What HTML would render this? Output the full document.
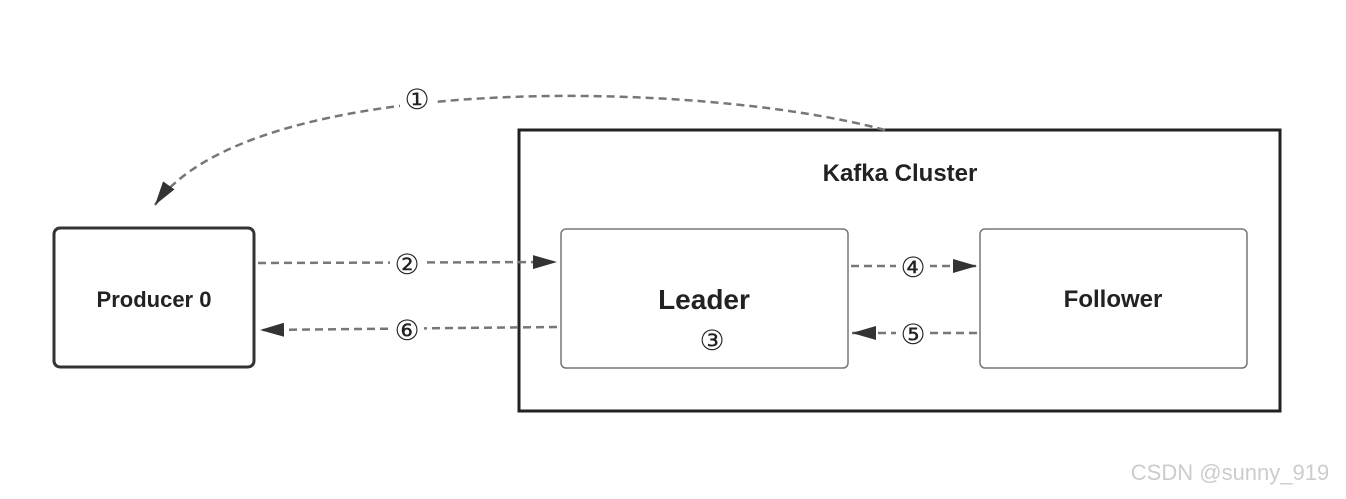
<!DOCTYPE html>
<html><head><style>
body{margin:0;background:#fff;}
svg text{font-family:"Liberation Sans",sans-serif;}
</style></head><body>
<svg width="1346" height="494" viewBox="0 0 1346 494" xmlns="http://www.w3.org/2000/svg">
<defs>
<marker id="a" markerWidth="10" markerHeight="10" refX="9" refY="5" orient="auto" markerUnits="userSpaceOnUse" viewBox="0 0 10 10">
<path d="M0,0 L10,5 L0,10 z" fill="#333"/>
</marker>
<marker id="b" markerWidth="24" markerHeight="14" refX="24" refY="7" orient="auto" markerUnits="userSpaceOnUse">
<path d="M0,0 L24,7 L0,14 z" fill="#333"/>
</marker>
</defs>
<rect x="519" y="130" width="761" height="281" fill="none" stroke="#222" stroke-width="3"/>
<text x="900" y="181" text-anchor="middle" font-size="24" font-weight="bold" fill="#222">Kafka Cluster</text>
<rect x="54" y="228" width="200" height="139" rx="6" fill="#fff" stroke="#333" stroke-width="3"/>
<text x="154" y="307" text-anchor="middle" font-size="22" font-weight="bold" fill="#222">Producer 0</text>
<rect x="561" y="229" width="287" height="139" rx="5" fill="#fff" stroke="#777" stroke-width="1.5"/>
<text x="704" y="309" text-anchor="middle" font-size="28" font-weight="bold" fill="#222">Leader</text>
<text x="712" y="350" text-anchor="middle" font-size="28" fill="#222">③</text>
<rect x="980" y="229" width="267" height="139" rx="5" fill="#fff" stroke="#777" stroke-width="1.5"/>
<text x="1113" y="307" text-anchor="middle" font-size="24" font-weight="bold" fill="#222">Follower</text>
<g fill="none" stroke="#777" stroke-width="2.5" stroke-dasharray="8,5">
<path d="M885,130 C700,80 250,70 155,205" marker-end="url(#b)"/>
<line x1="258" y1="263" x2="557" y2="262" marker-end="url(#b)"/>
<line x1="557" y1="327" x2="260" y2="330" marker-end="url(#b)"/>
<line x1="851" y1="266" x2="977" y2="266" marker-end="url(#b)"/>
<line x1="977" y1="333" x2="852" y2="333" marker-end="url(#b)"/>
</g>
<g font-size="28" fill="#222" text-anchor="middle">
<rect x="400" y="82" width="34" height="34" fill="#fff"/><text x="417" y="109">①</text>
<rect x="390" y="248" width="34" height="32" fill="#fff"/><text x="407" y="274">②</text>
<rect x="390" y="314" width="34" height="32" fill="#fff"/><text x="407" y="340">⑥</text>
<rect x="896" y="252" width="34" height="30" fill="#fff"/><text x="913" y="277">④</text>
<rect x="896" y="318" width="34" height="30" fill="#fff"/><text x="913" y="344">⑤</text>
</g>
<text x="1230" y="480" text-anchor="middle" font-size="22" fill="#ccc">CSDN @sunny_919</text>
</svg>
</body></html>
